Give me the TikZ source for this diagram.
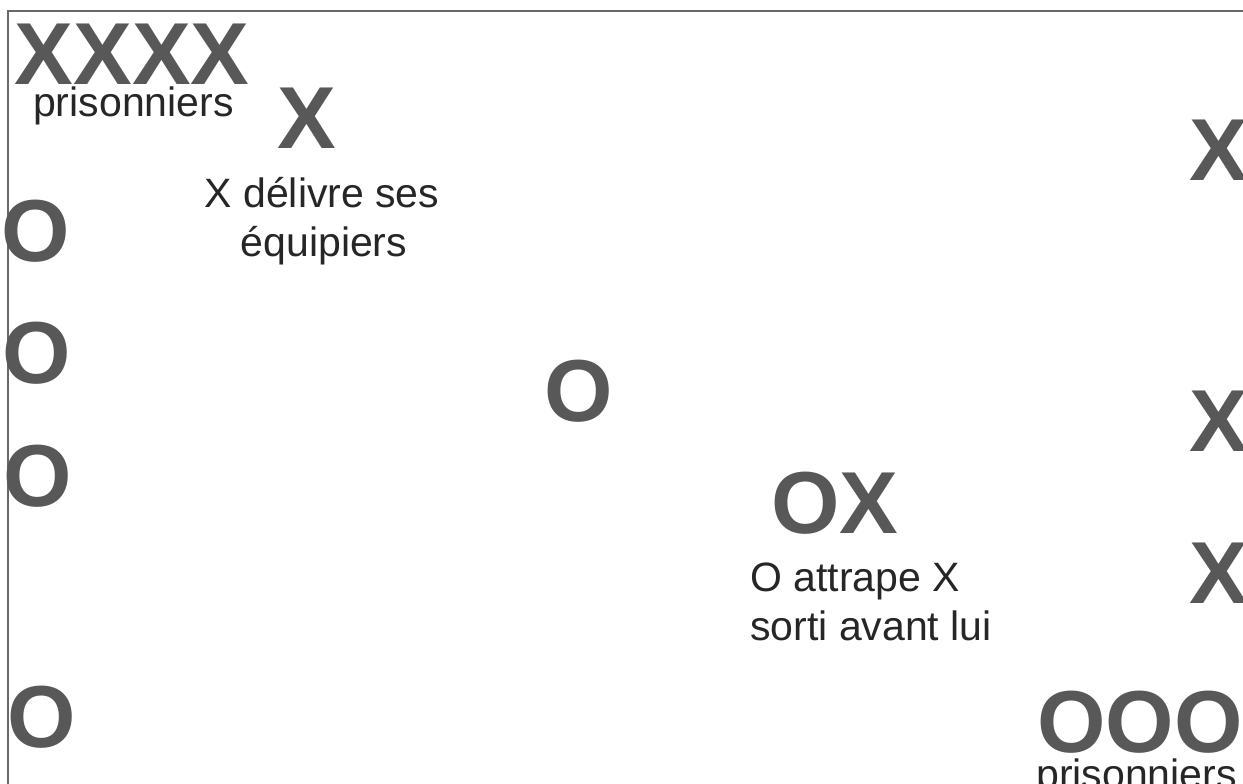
\documentclass[tikz,border=0pt]{standalone}
\usepackage{fontspec}
\setmainfont{Liberation Sans}
\definecolor{piececol}{RGB}{88,88,88}
\definecolor{notecol}{RGB}{38,38,38}
\definecolor{framecol}{RGB}{105,105,105}
\begin{document}
\begin{tikzpicture}[x=1pt,y=-1pt,
  piece/.style={inner sep=0pt, text=piececol, font=\fontsize{88}{90}\bfseries\selectfont},
  note/.style={inner sep=0pt, text=notecol, font=\fontsize{41}{49}\selectfont},
  frame/.style={draw=framecol, line width=2pt}]
\useasboundingbox[fill=white] (0,0) rectangle (1243,784);

% playing field border (top and left sides)
\draw[frame] (8,790) -- (8,11) -- (1250,11);

% team X prisoners and the player freeing them
\node[piece] (xprison) at (132,54) {XXXX};
\node[note, anchor=base west] (xprisonlbl) at (33,117) {prisonniers};
\node[piece] (xfree) at (307,118) {X};
\node[note, anchor=base] (freelblA) at (322,207) {X délivre ses};
\node[note, anchor=base] (freelblB) at (324,256) {équipiers};

% team O along the left side
\node[piece] (oa) at (36,231) {O};
\node[piece] (ob) at (37,353) {O};
\node[piece] (oc) at (38,476) {O};
\node[piece] (od) at (42,717) {O};
\node[piece] (omid) at (579,391) {O};

% O catching X
\node[piece] (ox) at (835,503) {OX};
\node[note, anchor=base west] (catchA) at (750,591) {O attrape X};
\node[note, anchor=base west] (catchB) at (750,640) {sorti avant lui};

% team X along the right side
\node[piece] (xa) at (1219,150) {X};
\node[piece] (xb) at (1219,421) {X};
\node[piece] (xc) at (1219,573) {X};

% team O prisoners
\node[piece] (oprison) at (1140,722) {OOO};
\node[note, anchor=base west] (oprisonlbl) at (1036,788) {prisonniers};
\end{tikzpicture}
\end{document}
